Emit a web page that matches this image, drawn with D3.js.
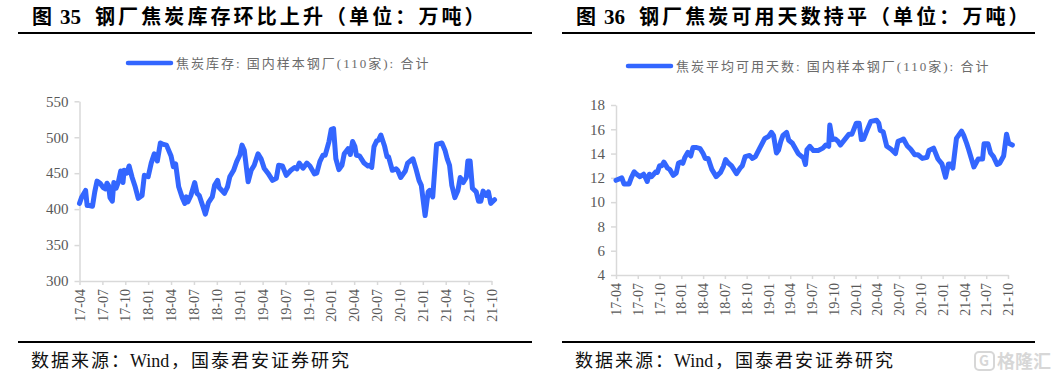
<!DOCTYPE html>
<html><head><meta charset="utf-8">
<script src="https://cdnjs.cloudflare.com/ajax/libs/d3/7.8.5/d3.min.js"></script>
<style>html,body{margin:0;padding:0;background:#fff;overflow:hidden}svg{display:block}</style>
</head><body><svg id="c" width="1052" height="378"></svg>
<script>
const tickLabels=["17-04","17-07","17-10","18-01","18-04","18-07","18-10","19-01","19-04","19-07","19-10","20-01","20-04","20-07","20-10","21-01","21-04","21-07","21-10"];
const tickMonths=tickLabels.map((d,i)=>i*3);
const stockTicks=[300,350,400,450,500,550];
const daysTicks=[4,6,8,10,12,14,16,18];
const stockMonths=[0,.3,.8,1,1.3,1.7,2,2.3,2.7,3.1,3.4,3.6,3.8,4,4.3,4.5,4.8,5.1,5.4,5.7,5.85,6.2,6.5,6.9,7.3,7.7,8.2,8.5,9,9.4,9.8,10.2,10.6,11,11.4,12,12.3,12.6,13,13.5,13.8,14,14.2,14.6,15.1,15.4,15.7,16.2,16.5,16.9,17.4,17.7,18.1,18.3,19,19.4,19.7,20.2,20.6,21,21.3,21.6,22.1,22.5,22.9,23.4,23.8,24.2,24.7,25.3,25.8,26.1,26.6,27.1,27.7,28.2,28.5,28.8,29.3,29.8,30.2,30.8,31.1,31.5,31.9,32.2,32.7,33,33.3,33.6,34,34.4,34.7,35.2,35.5,35.8,36.1,36.3,36.7,37.3,37.8,38,38.3,38.6,38.95,39.2,39.5,40,40.3,40.5,41,41.5,41.7,42.1,42.7,43,43.7,44.1,44.5,44.8,45.3,45.7,45.9,46.3,46.8,47.5,47.9,48.2,48.5,48.8,49.2,49.6,49.9,50.3,50.7,50.9,51.2,51.5,52,52.3,52.6,52.9,53.3,53.6,53.9,54.4];
const stockValues=[408,417,426,405,405,404,424,439,436,430,428,436,433,416,411,437,429,438,453,437,454,450,460,444,431,415,419,447,445,464,477,467,492,490,489,474,459,463,431,415,408,417,410,419,437,422,419,403,393,409,417,433,440,430,422,431,445,454,466,475,489,482,438,454,461,477,470,457,450,440,443,461,460,447,454,458,456,464,457,464,460,449,450,466,475,475,494,511,512,470,455,461,477,484,476,494,487,475,474,464,460,461,458,487,495,496,503,487,473,473,454,456,454,444,453,464,470,456,440,433,391,424,426,417,490,492,482,470,461,433,416,426,444,437,444,467,467,429,424,411,411,425,419,424,408,413];
const daysMonths=[0,.8,1.1,1.5,1.8,2.1,2.5,2.85,3.3,3.8,4,4.3,4.6,4.9,5.5,5.7,6,6.3,6.6,7.1,7.4,7.9,8.3,8.6,8.9,9.2,9.5,9.9,10.3,10.6,11.1,11.6,12,12.3,12.7,13.2,13.8,14.4,14.8,15.1,15.5,15.9,16.6,17.1,17.4,17.8,18.4,18.8,19.2,19.8,20.5,21,21.4,21.7,22.1,22.4,22.7,23,23.5,23.8,24.3,25.1,25.6,25.8,26.1,26.3,26.7,27.2,27.85,28.5,28.9,29.3,29.45,29.8,30.2,30.6,30.9,31.5,32.1,32.5,33.1,33.5,33.8,34.1,34.6,35.1,35.9,36.2,36.4,36.8,37.3,37.9,38.5,38.85,39.3,39.6,40.1,40.6,41.15,41.6,42.2,42.85,43.1,43.75,44.35,44.9,45.4,45.8,46.05,46.4,46.9,47.6,47.9,48.3,48.6,49.3,49.9,50.5,50.7,51.25,51.6,52,52.5,52.85,53.4,53.8,54.1,54.6];
const daysValues=[11.8,12,11.5,11.5,11.5,12,12.5,12.3,12.1,12.3,12.1,11.7,12.3,12.1,12.5,12.45,13,13,13.3,12.8,12.7,12.2,12.4,13.2,13.3,13.2,13.7,14.1,13.8,14.5,14.5,14.4,14,13.6,13.6,12.7,12.1,12.45,12.95,13.5,13.2,13,12.35,12.8,13,13.75,13.85,13.6,13.75,14.45,15.25,15.4,15.75,15.5,14.05,14.3,15,15.5,15.75,15.1,14.85,14,13.75,13.7,13.1,14.3,14.6,14.25,14.25,14.45,14.7,14.6,16.35,15.15,15.2,15,14.7,15.15,15.6,15.6,16.5,16.5,15.15,15.2,15.95,16.65,16.75,16.5,15.9,15.8,14.6,14.35,14,15,15.1,15.2,14.65,14.35,13.9,13.9,13.6,13.7,14.25,14.45,13.55,13.15,12.05,13.15,13.15,12.8,15.25,15.85,15.5,14.85,14.3,12.9,13.55,13.55,14.8,14.8,14.05,13.75,13.1,13.2,13.8,15.6,14.85,14.7];
const stockTitle=["图","35","钢厂焦炭库存环比上升（单位：万吨）"];
const daysTitle=["图","36","钢厂焦炭可用天数持平（单位：万吨）"];
const stockLegend="焦炭库存: 国内样本钢厂(110家): 合计";
const daysLegend="焦炭平均可用天数: 国内样本钢厂(110家): 合计";
const sourceParts=["数据来源：","Wind","，国泰君安证券研究"];

const serif='"Liberation Serif","Noto Sans CJK SC",serif';
const svg=d3.select("#c");
function panel(o){
  const g=svg.append("g");
  const x=d3.scaleLinear().domain([0,54]).range(o.xr);
  const y=d3.scaleLinear().domain(o.yd).range(o.yr);
  const t=g.append("text").attr("y",24).attr("font-family",serif)
    .attr("font-weight","bold").attr("font-size",20).attr("fill","#000");
  t.append("tspan").attr("x",o.tx).text(o.title[0]);
  t.append("tspan").attr("x",o.tx+28).attr("font-size",21).text(o.title[1]);
  t.append("tspan").attr("x",o.tx+63).attr("letter-spacing",3.1).text(o.title[2]);
  g.append("rect").attr("x",o.rule[0]).attr("y",32).attr("width",o.rule[1]-o.rule[0]).attr("height",2).attr("fill","#000");
  g.append("rect").attr("x",o.rule[0]).attr("y",341).attr("width",o.rule[1]-o.rule[0]).attr("height",2).attr("fill","#000");
  const s=g.append("text").attr("y",367).attr("font-family",serif).attr("font-size",18).attr("fill","#111");
  s.append("tspan").attr("x",o.tx-1).attr("letter-spacing",2).text(sourceParts[0]);
  s.append("tspan").attr("x",o.tx+98).text(sourceParts[1]);
  s.append("tspan").attr("x",o.tx+139).attr("letter-spacing",2).text(sourceParts[2]);
  g.append("line").attr("x1",o.lg[0]).attr("x2",o.lg[1]).attr("y1",o.lg[2]).attr("y2",o.lg[2])
    .attr("stroke","#3366ff").attr("stroke-width",4.5).attr("stroke-linecap","round");
  g.append("text").attr("x",o.lg[1]+5).attr("y",o.lg[2]+5).attr("font-family",serif).attr("font-size",13)
    .attr("letter-spacing",2).attr("fill","#6b6b6b").text(o.legend);
  const ax=g.append("g").attr("transform",`translate(0,${o.yr[0]})`).call(
    d3.axisBottom(x).tickValues(tickMonths).tickFormat((d,i)=>tickLabels[i]).tickSize(4).tickSizeOuter(0));
  ax.selectAll("path,line").attr("stroke","#d9d9d9").attr("stroke-width",1.5);
  ax.selectAll("text").attr("font-family",serif).attr("font-size",14).attr("fill","#595959")
    .attr("transform","rotate(-90)").attr("text-anchor","end").attr("x",-8).attr("y",0).attr("dy","0.33em");
  const ay=g.append("g").attr("transform",`translate(${o.xr[0]},0)`).call(
    d3.axisLeft(y).tickValues(o.ticks).tickSize(5).tickSizeOuter(0));
  ay.selectAll("path,line").attr("stroke","#d9d9d9").attr("stroke-width",1.5);
  ay.selectAll("text").attr("font-family",serif).attr("font-size",15).attr("fill","#595959").attr("x",-11);
  const line=d3.line().x(d=>x(d[0])).y(d=>y(d[1]));
  g.append("path").datum(d3.zip(o.m,o.v)).attr("d",line).attr("fill","none")
    .attr("stroke","#3366ff").attr("stroke-width",5).attr("stroke-linejoin","round").attr("stroke-linecap","round");
}
panel({xr:[79.5,491.5],yr:[281,101.3],yd:[300,550],ticks:stockTicks,m:stockMonths,v:stockValues,title:stockTitle,legend:stockLegend,tx:32,rule:[18,532],lg:[128,171,63]});
panel({xr:[616,1008],yr:[275,105],yd:[4,18],ticks:daysTicks,m:daysMonths,v:daysValues,title:daysTitle,legend:daysLegend,tx:576,rule:[562,1035],lg:[628,671,66]});
const wm=svg.append("g").attr("opacity",.6);
wm.append("rect").attr("x",975).attr("y",352).attr("width",19).attr("height",18).attr("rx",4).attr("fill","none").attr("stroke","#bdbdbd").attr("stroke-width",2);
wm.append("text").attr("x",979).attr("y",366).attr("font-family","Noto Sans CJK SC").attr("font-weight","bold").attr("font-size",14).attr("fill","#bdbdbd").text("G");
wm.append("text").attr("x",997).attr("y",368).attr("font-family","Noto Sans CJK SC").attr("font-weight","bold").attr("font-size",18).attr("fill","#bdbdbd").text("格隆汇");
</script></body></html>
